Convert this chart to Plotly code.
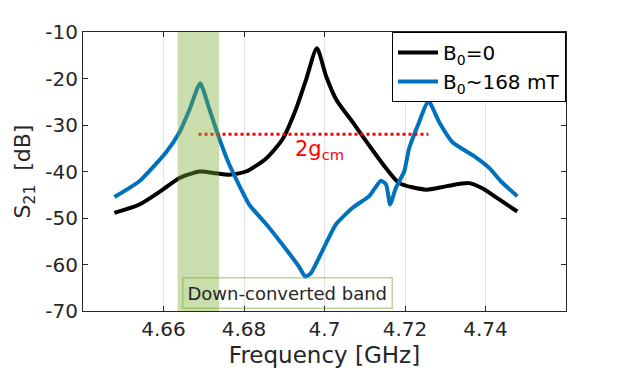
import plotly.graph_objects as go

# B0 = 0 trace (frequency in GHz, S21 in dB)
f_zero = [4.6478, 4.654, 4.6598, 4.664, 4.669, 4.6731, 4.6764, 4.6805, 4.6855, 4.6896,
          4.6929, 4.6954, 4.6981, 4.7004, 4.7029, 4.707, 4.7111, 4.7153, 4.7186,
          4.7252, 4.7301, 4.7359, 4.7392, 4.7434, 4.7479]
s_zero = [-48.9, -47.1, -43.9, -41.4, -40.0, -40.4, -40.7, -40.0, -37.2, -33.0,
          -26.6, -20.3, -13.5, -19.5, -24.5, -29.4, -34.4, -39.3, -42.5,
          -43.9, -43.2, -42.5, -43.6, -46.0, -48.6]

# B0 ~ 168 mT trace
f_field = [4.6478, 4.654, 4.6607, 4.664, 4.6665, 4.6691, 4.6714, 4.6739, 4.6764, 4.6813,
           4.6855, 4.6913, 4.6937, 4.6952, 4.6966, 4.6995, 4.7029, 4.707, 4.7111,
           4.714, 4.7153, 4.7163, 4.7177, 4.7198, 4.721, 4.7235, 4.7258, 4.7285,
           4.7318, 4.7368, 4.741, 4.7438, 4.7479]
s_field = [-45.5, -42.1, -35.8, -31.5, -26.6, -21.0, -26.6, -33.0, -38.6, -47.1,
           -51.3, -57.7, -60.5, -62.6, -61.9, -57.0, -51.3, -47.8, -45.3,
           -42.0, -42.8, -47.1, -43.6, -40.0, -35.1, -29.4, -24.8, -29.4,
           -33.7, -36.5, -39.3, -42.1, -45.3]

band = [4.6635, 4.6738]          # down-converted band edges
gap_f = [4.6687, 4.7258]         # 2g_cm marker
gap_level = -32.0

x_ticks = [4.66, 4.68, 4.70, 4.72, 4.74]
x_labels = ["4.66", "4.68", "4.7", "4.72", "4.74"]
y_ticks = [-70, -60, -50, -40, -30, -20, -10]
y_labels = ["-70", "-60", "-50", "-40", "-30", "-20", "-10"]

FONT = "DejaVu Sans"
TXT = "#262626"

fig = go.Figure()
fig.add_trace(go.Scatter(x=f_zero, y=s_zero, mode="lines", name="B<sub>0</sub>=0",
                         line=dict(color="black", width=4, shape="spline", smoothing=0.65)))
fig.add_trace(go.Scatter(x=f_field, y=s_field, mode="lines", name="B<sub>0</sub>~168 mT",
                         line=dict(color="#0072BD", width=4, shape="spline", smoothing=0.5)))
fig.add_trace(go.Scatter(x=gap_f, y=[gap_level, gap_level], mode="lines", showlegend=False,
                         line=dict(color="red", width=3, dash="dot")))

fig.add_shape(type="rect", xref="x", yref="paper", x0=band[0], x1=band[1], y0=0, y1=1,
              fillcolor="rgba(119,172,48,0.4)", line_width=0, layer="above")

fig.add_annotation(x=4.6987, y=-35.4, xref="x", yref="y",
                   text="2g<sub>cm</sub>", showarrow=False,
                   font=dict(family=FONT, size=21, color="red"))
fig.add_annotation(x=4.6909, y=-66.1, xref="x", yref="y", text="Down-converted band",
                   showarrow=False, font=dict(family=FONT, size=18, color=TXT),
                   bordercolor="rgba(119,172,48,0.5)", borderwidth=1.5, borderpad=4)

fig.update_layout(
    width=627, height=378,
    margin=dict(l=75, r=69, t=20, b=75),
    paper_bgcolor="white", plot_bgcolor="white",
    font=dict(family=FONT, size=20, color=TXT),
    legend=dict(x=1, y=1, xanchor="right", yanchor="top", bordercolor="black",
                borderwidth=1, bgcolor="white", font=dict(size=20, color="black"),
                itemwidth=40, tracegroupgap=0),
)
fig.update_xaxes(range=[4.64, 4.76], tickvals=x_ticks, ticktext=x_labels,
                 showgrid=True, gridcolor="#e2e2e2", gridwidth=1,
                 showline=True, linecolor="#262626", linewidth=1, mirror="ticks",
                 ticks="inside", ticklen=5, tickcolor="#262626", zeroline=False,
                 title=dict(text="Frequency [GHz]", font=dict(size=23), standoff=6))
fig.update_yaxes(range=[-70, -10], tickvals=y_ticks, ticktext=y_labels, showgrid=False,
                 showline=True, linecolor="#262626", linewidth=1, mirror="ticks",
                 ticks="inside", ticklen=5, tickcolor="#262626", zeroline=False,
                 title=dict(text="S<sub>21</sub>  [dB]", font=dict(size=22), standoff=8))

fig.write_html("out.html")
